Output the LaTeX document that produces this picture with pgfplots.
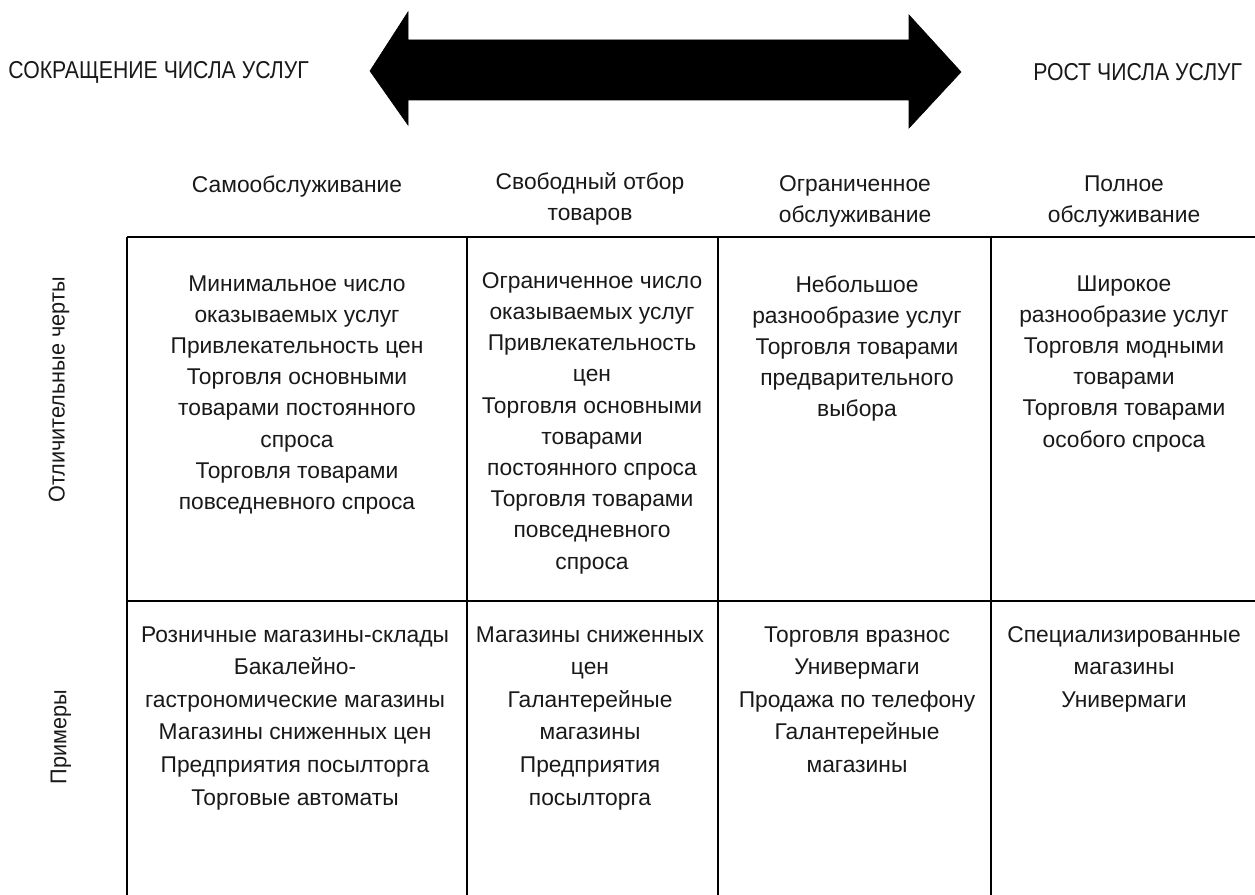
\documentclass[border=0pt]{standalone}
\usepackage{fontspec}
\setmainfont{Liberation Sans}
\newfontfamily\condfont{Liberation Sans}[FakeStretch=0.87]
\newfontfamily\labfont{Liberation Sans}[FakeStretch=0.95]
\usepackage{pgfplots}
\pgfplotsset{compat=1.18}
\tikzset{txt/.style={font=\fontsize{11.4bp}{15.6bp}\selectfont, align=center, inner sep=0pt, text=black!90},
  txtb/.style={font=\fontsize{11.4bp}{16.3bp}\selectfont, align=center, inner sep=0pt, text=black!90}}
\begin{document}
\begin{tikzpicture}
\begin{axis}[
  width=627.5bp, height=447.5bp, scale only axis,
  xmin=0, xmax=1255, ymin=0, ymax=895, y dir=reverse,
  hide axis, clip=false,
]
% arrow
\addplot[fill=black, draw=black, line width=0.3bp] coordinates {
 (370,71) (408,12) (408,40) (909,40) (909,15) (961,72) (909,128) (909,100) (408,100) (408,125) (370,71)} --cycle;
% table lines
\addplot[black, line width=1.3bp] coordinates {(127,237) (1255,237)};
\addplot[black, line width=1.2bp] coordinates {(127,601) (1255,601)};
\addplot[black, line width=1bp] coordinates {(127,237) (127,895)};
\addplot[black, line width=1bp] coordinates {(467,237) (467,895)};
\addplot[black, line width=1bp] coordinates {(718,237) (718,895)};
\addplot[black, line width=1bp] coordinates {(991,237) (991,895)};
% titles
\node[txt, anchor=west, font=\condfont\fontsize{12.2bp}{15bp}\selectfont] at (axis cs:8,72) {СОКРАЩЕНИЕ ЧИСЛА УСЛУГ};
\node[txt, anchor=west, font=\condfont\fontsize{12.2bp}{15bp}\selectfont] at (axis cs:1033,72) {РОСТ ЧИСЛА УСЛУГ};
% headers
\node[txt, anchor=north] at (axis cs:297,175) {Самообслуживание};
\node[txt, anchor=north] at (axis cs:590,172) {Свободный отбор\\товаров};
\node[txt, anchor=north] at (axis cs:855,175) {Ограниченное\\обслуживание};
\node[txt, anchor=north] at (axis cs:1124,175) {Полное\\обслуживание};
% row labels
\node[txt, rotate=90, font=\labfont\fontsize{11.4bp}{15bp}\selectfont] at (axis cs:59,390) {Отличительные черты};
\node[txt, rotate=90, font=\labfont\fontsize{11.4bp}{15bp}\selectfont] at (axis cs:61,737) {Примеры};
% row 1
\node[txt, anchor=north] at (axis cs:297,275) {Минимальное число\\оказываемых услуг\\Привлекательность цен\\Торговля основными\\товарами постоянного\\спроса\\Торговля товарами\\повседневного спроса};
\node[txt, anchor=north] at (axis cs:592,272) {Ограниченное число\\оказываемых услуг\\Привлекательность\\цен\\Торговля основными\\товарами\\постоянного спроса\\Торговля товарами\\повседневного\\спроса};
\node[txt, anchor=north] at (axis cs:857,275) {Небольшое\\разнообразие услуг\\Торговля товарами\\предварительного\\выбора};
\node[txt, anchor=north] at (axis cs:1124,275) {Широкое\\разнообразие услуг\\Торговля модными\\товарами\\Торговля товарами\\особого спроса};
% row 2
\node[txtb, anchor=north] at (axis cs:295,626) {Розничные магазины-склады\\Бакалейно-\\гастрономические магазины\\Магазины сниженных цен\\Предприятия посылторга\\Торговые автоматы};
\node[txtb, anchor=north] at (axis cs:590,626) {Магазины сниженных\\цен\\Галантерейные\\магазины\\Предприятия\\посылторга};
\node[txtb, anchor=north] at (axis cs:857,626) {Торговля вразнос\\Универмаги\\Продажа по телефону\\Галантерейные\\магазины};
\node[txtb, anchor=north] at (axis cs:1124,626) {Специализированные\\магазины\\Универмаги};
\end{axis}
\pgfresetboundingbox
\path (0,0) rectangle (627.5bp,447.5bp);
\end{tikzpicture}
\end{document}
